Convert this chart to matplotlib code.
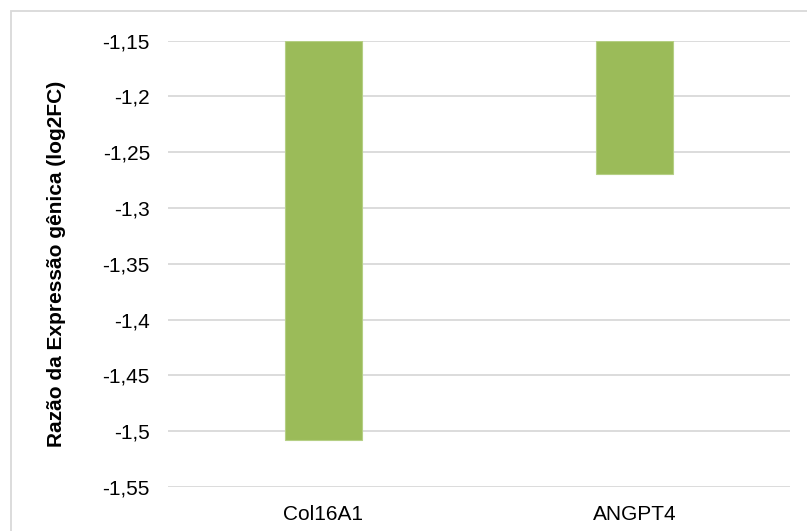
import matplotlib
matplotlib.use("Agg")
import matplotlib.pyplot as plt
from matplotlib.patches import Rectangle
from matplotlib.ticker import MultipleLocator, FuncFormatter

# values (log2FC)
genes = ["Col16A1", "ANGPT4"]
log2fc = [-1.508, -1.27]
y_top = -1.15
y_bottom = -1.55

BAR_GREEN = "#9BBB59"
GRID_GRAY = "#D9D9D9"

plt.rcParams["font.family"] = ["Liberation Sans", "DejaVu Sans"]

fig = plt.figure(figsize=(8.07, 5.31), dpi=100)
W, H = 807, 531

# chart-area border (Excel style), runs off the right and bottom edges
fig.patches.append(Rectangle((11 / W, -0.1), 1.1, (H - 11) / H + 0.1,
                             transform=fig.transFigure, fill=False,
                             edgecolor=GRID_GRAY, linewidth=1.3))

ax = fig.add_axes([168 / W, (H - 487) / H, (790 - 168) / W, (487 - 40.5) / H])

x = list(range(len(genes)))
heights = [v - y_top for v in log2fc]
ax.bar(x, heights, bottom=y_top, width=0.25, color=BAR_GREEN,
       edgecolor="#B5CF84", linewidth=0.8, zorder=3)

ax.set_xlim(-0.5, len(genes) - 0.5)
ax.set_ylim(y_bottom, y_top)
ax.yaxis.set_major_locator(MultipleLocator(0.05))
ax.yaxis.set_major_formatter(FuncFormatter(lambda v, p: f"{round(v, 2):g}".replace(".", ",")))
ax.set_xticks(x)
ax.set_xticklabels(genes)

ax.grid(axis="y", color=GRID_GRAY, linewidth=1.3, zorder=0)
for s in ax.spines.values():
    s.set_visible(False)
ax.tick_params(axis="both", length=0, labelsize=15, colors="black")
ax.tick_params(axis="y", pad=13)
ax.tick_params(axis="x", pad=13)

ax.set_ylabel("Razão da Expressão gênica (log2FC)", fontsize=15, fontweight="bold")
ax.yaxis.set_label_coords(-0.164, 0.5)

fig.savefig("out.png", dpi=100)
